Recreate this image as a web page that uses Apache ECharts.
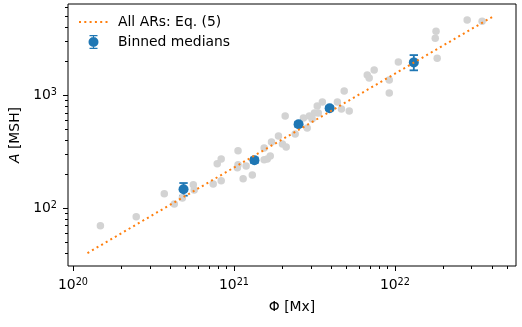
<!DOCTYPE html>
<html>
<head>
<meta charset="utf-8">
<script src="https://cdn.jsdelivr.net/npm/echarts@6/dist/echarts.min.js"></script>
<style>
  html, body { margin: 0; padding: 0; background: #fff; }
  #main { width: 522px; height: 327px; }
</style>
</head>
<body>
<div id="main"></div>
<script>
// individual ARs: total flux [Mx] and area [MSH] (grey dots)
var arFlux = [1.48e20, 2.47e20, 3.69e20, 4.26e20, 4.78e20, 5.59e20, 5.66e20, 7.43e20, 8.33e20, 7.87e20,
  8.33e20, 1.06e21, 1.05e21, 1.06e21, 1.19e21, 1.14e21, 1.30e21, 1.54e21, 1.54e21, 1.61e21,
  1.68e21, 1.71e21, 1.89e21, 2.00e21, 2.11e21, 2.08e21, 2.40e21, 2.70e21, 2.85e21, 2.94e21,
  3.06e21, 3.16e21, 3.29e21, 3.34e21, 3.54e21, 4.39e21, 4.65e21, 4.84e21, 5.20e21, 6.73e21,
  6.92e21, 7.43e21, 9.22e21, 9.22e21, 1.05e22, 1.78e22, 1.80e22, 1.83e22, 2.81e22, 3.48e22]
var arArea = [70, 84, 134, 109, 123, 161, 145, 164, 175, 247,
  273, 322, 228, 242, 237, 182, 197, 342, 268, 273,
  290, 386, 436, 371, 349, 656, 455, 630, 514, 656,
  618, 698, 805, 698, 873, 873, 757, 1091, 726, 1514,
  1422, 1675, 1368, 1049, 1972, 3213, 3705, 2138, 4648, 4550]

// binned medians with error bar limits
var binFlux = [4.86e20, 1.34e21, 2.52e21, 3.93e21, 1.31e22]
var binArea = [147, 266, 554, 768, 1960]
var binLow = [129, 252, 527, 738, 1667]
var binHigh = [167, 281, 583, 800, 2275]

// Eq. (5) end points
var fitFlux = [1.23e20, 4.07e22]
var fitArea = [40, 5010]

// axis ranges and ticks
var xRange = [9.31e19, 5.65e22]
var yRange = [30.7, 6457]
var xMajor = [1e20, 1e21, 1e22]
var xMinor = [2e20, 3e20, 4e20, 5e20, 6e20, 7e20, 8e20, 9e20,
  2e21, 3e21, 4e21, 5e21, 6e21, 7e21, 8e21, 9e21, 2e22, 3e22, 4e22, 5e22]
var yMajor = [1e2, 1e3]
var yMinor = [40, 50, 60, 70, 80, 90, 200, 300, 400, 500, 600, 700, 800, 900,
  2000, 3000, 4000, 5000, 6000]

var lg = Math.log10
var FONT = 'DejaVu Sans'
var BLUE = '#1f77b4'
var ORANGE = '#ff7f0e'

var powRich = {
  b: { fontSize: 13.9, fontFamily: FONT, color: '#000', lineHeight: 15, verticalAlign: 'bottom' },
  s: { fontSize: 9.7, fontFamily: FONT, color: '#000', lineHeight: 9, verticalAlign: 'top' }
}
function powLabel (v) {
  return '{b|10}{s|' + Math.round(v) + '}'
}

function majorAxis (range, ticks, extra) {
  var ax = {
    type: 'value',
    min: lg(range[0]),
    max: lg(range[1]),
    axisLine: { show: false },
    splitLine: { show: false },
    axisTick: { show: true, customValues: ticks.map(lg), length: 5, lineStyle: { color: '#000', width: 1 } },
    axisLabel: { customValues: ticks.map(lg), formatter: powLabel, rich: powRich, margin: 11 }
  }
  return Object.assign(ax, extra)
}
function minorAxis (range, ticks, pos) {
  return {
    type: 'value',
    position: pos,
    min: lg(range[0]),
    max: lg(range[1]),
    axisLine: { show: false },
    splitLine: { show: false },
    axisTick: { show: true, customValues: ticks.map(lg), length: 3, lineStyle: { color: '#000', width: 1 } },
    axisLabel: { show: false }
  }
}

var chart = echarts.init(document.getElementById('main'))
var option = {
  animation: false,
  backgroundColor: '#fff',
  grid: { left: 68, right: 6, top: 4, bottom: 61, show: true, borderColor: '#000', borderWidth: 1, backgroundColor: 'transparent' },
  legend: {
    orient: 'vertical',
    left: 73,
    top: 10,
    itemWidth: 29,
    itemHeight: 14,
    itemGap: 6,
    selectedMode: false,
    textStyle: { fontSize: 13.9, fontFamily: FONT, color: '#000', padding: [0, 0, 0, 5] },
    data: [
      { name: 'All ARs: Eq. (5)', itemStyle: { color: 'rgba(0,0,0,0)', borderWidth: 0 } },
      { name: 'Binned medians', icon: 'path://M1,0H9V1.3H1Z M1,12.7H9V14H1Z M4.4,0H5.6V14H4.4Z M0,7A5,5 0 1 1 10,7A5,5 0 1 1 0,7Z', itemStyle: { color: BLUE } }
    ]
  },
  xAxis: [
    majorAxis(xRange, xMajor, {
      position: 'bottom',
      name: 'Φ [Mx]',
      nameLocation: 'middle',
      nameGap: 34,
      nameTextStyle: { fontSize: 13.9, fontFamily: FONT, color: '#000' }
    }),
    minorAxis(xRange, xMinor, 'bottom')
  ],
  yAxis: [
    majorAxis(yRange, yMajor, {
      position: 'left',
      name: '{i|A} [MSH]',
      nameLocation: 'middle',
      nameGap: 44,
      nameRotate: 90,
      nameTextStyle: {
        fontSize: 13.9, fontFamily: FONT, color: '#000',
        rich: { i: { fontSize: 13.9, fontFamily: FONT, fontStyle: 'italic', color: '#000' } }
      }
    }),
    minorAxis(yRange, yMinor, 'left')
  ],
  series: [
    {
      name: 'All ARs',
      type: 'scatter',
      silent: true,
      symbolSize: 7.5,
      itemStyle: { color: '#d3d3d3', opacity: 1 },
      data: arFlux.map(function (f, i) { return [lg(f), lg(arArea[i])] })
    },
    {
      name: 'All ARs: Eq. (5)',
      type: 'line',
      symbol: 'none',
      silent: true,
      itemStyle: { color: ORANGE },
      lineStyle: { color: ORANGE, width: 2, type: [2, 3.3] },
      data: fitFlux.map(function (f, i) { return [lg(f), lg(fitArea[i])] })
    },
    {
      name: 'errors',
      type: 'custom',
      silent: true,
      encode: { x: 0, y: 1 },
      renderItem: function (params, api) {
        var x = api.value(0)
        var lo = api.coord([x, api.value(2)])
        var hi = api.coord([x, api.value(3)])
        var cx = lo[0]
        var w = 4.2
        var st = { stroke: BLUE, lineWidth: 1.8 }
        return {
          type: 'group',
          children: [
            { type: 'line', shape: { x1: cx, y1: hi[1], x2: cx, y2: lo[1] }, style: st },
            { type: 'line', shape: { x1: cx - w, y1: hi[1], x2: cx + w, y2: hi[1] }, style: st },
            { type: 'line', shape: { x1: cx - w, y1: lo[1], x2: cx + w, y2: lo[1] }, style: st }
          ]
        }
      },
      data: binFlux.map(function (f, i) { return [lg(f), lg(binArea[i]), lg(binLow[i]), lg(binHigh[i])] })
    },
    {
      name: 'Binned medians',
      type: 'scatter',
      silent: true,
      symbolSize: 10,
      itemStyle: { color: BLUE, opacity: 1 },
      data: binFlux.map(function (f, i) { return [lg(f), lg(binArea[i])] })
    }
  ]
}
chart.setOption(option)
</script>
</body>
</html>
